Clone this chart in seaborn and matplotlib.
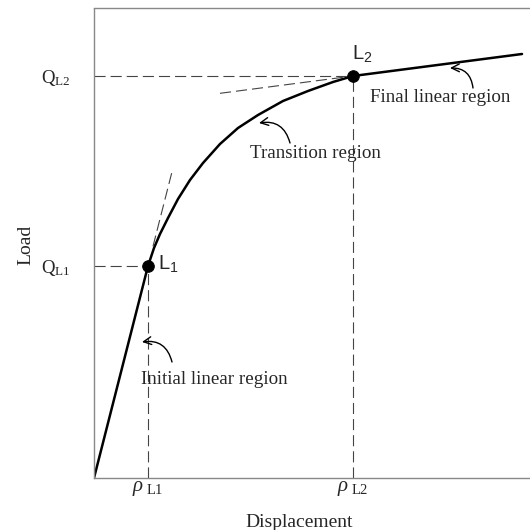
import matplotlib
matplotlib.use("Agg")
import matplotlib.pyplot as plt
import seaborn as sns
import pandas as pd

# ---- data (arbitrary schematic units) ----
disp = [0, 5.4, 6.0, 6.6, 7.4, 8.4, 9.6, 10.9, 12.6, 14.4, 16.4, 18.9, 21.4, 23.9, 25.9, 42.8]
load = [0, 21.2, 23.0, 24.4, 26.0, 27.9, 29.8, 31.5, 33.4, 35.0, 36.3, 37.7, 38.7, 39.6, 40.2, 42.4]
pt_names = ["L1", "L2"]
pt_disp = [5.4, 25.9]
pt_load = [21.2, 40.2]
ytick_labels = [r"$\mathrm{Q_{L1}}$", r"$\mathrm{Q_{L2}}$"]
xtick_labels = [r"$\mathit{ρ}_{\ \mathrm{L1}}$", r"$\mathit{ρ}_{\ \mathrm{L2}}$"]
init_tan_x = [5.9, 7.8]
final_tan_x = [12.6, 25.9]
region_names = ["Initial linear region", "Transition region", "Final linear region"]
region_text_xy = [(12.0, 9.8), (22.1, 32.5), (34.6, 38.0)]
region_tail_xy = [(7.8, 11.6), (19.6, 33.5), (37.9, 39.0)]
region_head_xy = [(4.8, 13.6), (16.5, 35.5), (35.6, 41.0)]

sns.set_theme(style="white")
plt.rcParams["font.family"] = ["Liberation Serif", "DejaVu Serif"]
plt.rcParams["mathtext.fontset"] = "custom"
plt.rcParams["mathtext.rm"] = "Liberation Serif"
plt.rcParams["mathtext.it"] = "Liberation Serif:italic"
plt.rcParams["mathtext.sf"] = "Liberation Sans"

fig = plt.figure(figsize=(5.3, 5.3), dpi=100)
ax = fig.add_axes([94 / 530, 52 / 530, 435 / 530, 470 / 530])

df = pd.DataFrame({"disp": disp, "load": load})
sns.lineplot(data=df, x="disp", y="load", sort=False, color="black", lw=1.8, ax=ax)

# guide lines
dash = dict(color="#444444", lw=0.8, dashes=(10, 4.5))
for px, py in zip(pt_disp, pt_load):
    ax.plot([0, px], [py, py], **dash)
    ax.plot([px, px], [0, py], **dash)

# tangents
s1 = pt_load[0] / pt_disp[0]
ax.plot(init_tan_x, [s1 * v for v in init_tan_x], **dash)
s2 = (load[-1] - load[-2]) / (disp[-1] - disp[-2])
ax.plot(final_tan_x, [pt_load[1] + s2 * (v - pt_disp[1]) for v in final_tan_x], **dash)

sns.scatterplot(x=pt_disp, y=pt_load, color="black", s=70, edgecolor="black", zorder=5, ax=ax)

ax.text(pt_disp[0] + 1.0, pt_load[0] + 0.3, r"$\mathsf{L}_{\mathsf{1}}$", fontsize=14.5,
        va="center", ha="left", family="Liberation Sans")
ax.text(pt_disp[1] - 0.1, pt_load[1] + 1.2, r"$\mathsf{L}_{\mathsf{2}}$", fontsize=14.5,
        va="bottom", ha="left", family="Liberation Sans")

for name, txy, tail, head in zip(region_names, region_text_xy, region_tail_xy, region_head_xy):
    ax.text(txy[0], txy[1], name, fontsize=13.7, ha="center", va="center")
    ax.annotate("", xy=head, xytext=tail,
                arrowprops=dict(arrowstyle="->", color="black", lw=1.0,
                                connectionstyle="arc3,rad=0.45", mutation_scale=14,
                                shrinkA=0, shrinkB=0))

ax.set_xlim(0, 43.5)
ax.set_ylim(0, 47)
ax.set_xticks(pt_disp)
ax.set_xticklabels(xtick_labels, fontsize=15)
ax.set_yticks(pt_load)
ax.set_yticklabels(ytick_labels, fontsize=13.5)
ax.tick_params(axis="both", length=0)
ax.tick_params(axis="x", pad=1)
ax.tick_params(axis="y", pad=17)

ax.set_xlabel("Displacement", fontsize=14)
ax.set_ylabel("Load", fontsize=14)
ax.xaxis.set_label_coords(0.471, -0.076)
ax.yaxis.set_label_coords(-0.138, 0.496)

for side in ["left", "bottom", "top"]:
    ax.spines[side].set_visible(True)
    ax.spines[side].set_color("#888888")
    ax.spines[side].set_linewidth(1.0)
    ax.spines[side].set_linestyle((0, (2, 1)))
ax.spines["right"].set_visible(False)

fig.savefig("out.png", dpi=100)
